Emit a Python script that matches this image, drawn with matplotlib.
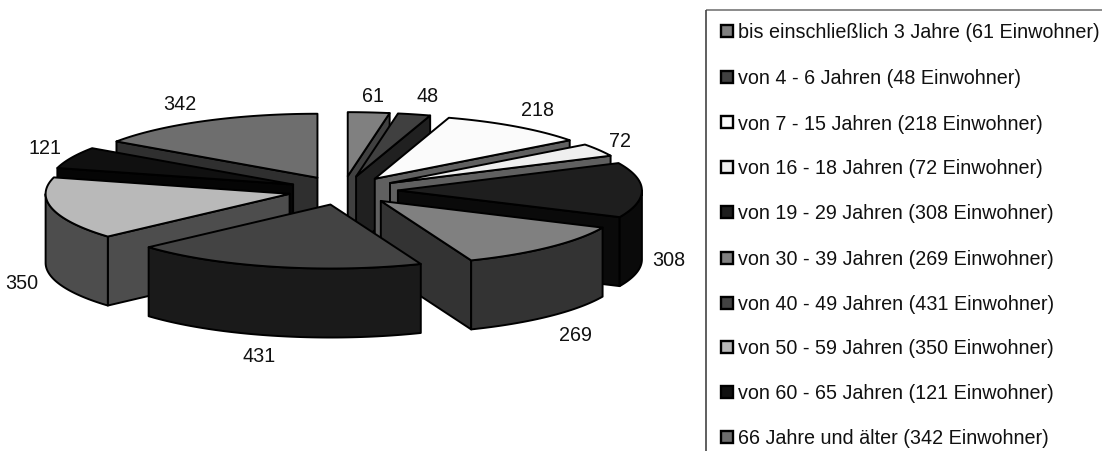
import numpy as np
import matplotlib
matplotlib.use('Agg')
import matplotlib.pyplot as plt
from matplotlib.patches import Polygon, Rectangle

plt.rcParams['font.family'] = ['Liberation Sans', 'DejaVu Sans']

categories = ['bis einschließlich 3 Jahre', 'von 4 - 6 Jahren', 'von 7 - 15 Jahren',
              'von 16 - 18 Jahren', 'von 19 - 29 Jahren', 'von 30 - 39 Jahren',
              'von 40 - 49 Jahren', 'von 50 - 59 Jahren', 'von 60 - 65 Jahren',
              '66 Jahre und älter']
values = [61, 48, 218, 72, 308, 269, 431, 350, 121, 342]
top_colors = ['#808080', '#404040', '#fbfbfb', '#efefef', '#1e1e1e',
              '#808080', '#434343', '#b9b9b9', '#101010', '#6e6e6e']
side_colors = ['#404040', '#202020', '#606060', '#606060', '#0a0a0a',
               '#333333', '#1a1a1a', '#4d4d4d', '#050505', '#2f2f2f']
label_pos = [(373, 96), (428, 96), (538, 111), (620, 142), (669, 261),
             (575, 336), (259, 357), (22, 284), (45, 149), (180, 105)]
draw_order = [0, 1, 2, 3, 4, 5, 9, 8, 7, 6]
legend_y = [33, 79, 124, 169, 214, 260, 305, 349, 394, 439]

# pie geometry in pixels
CX, CY = 343, 191.5
RX, RY = 244, 64
DEPTH = 69
EXPLODE = 0.225
LW = 1.4

fig = plt.figure(figsize=(11.02, 4.52), dpi=100)
ax = fig.add_axes([0, 0, 1, 1])
ax.set_xlim(0, 1102)
ax.set_ylim(452, 0)
ax.axis('off')


def arc(tip, a0, a1):
    t = np.radians(np.linspace(a0, a1, 60))
    return np.column_stack([tip[0] + RX * np.sin(t), tip[1] - RY * np.cos(t)])


def face(pts, color, zorder):
    ax.add_patch(Polygon(pts, closed=True, facecolor=color, edgecolor='black',
                         linewidth=LW, joinstyle='round', zorder=zorder))


def draw_slice(i, z):
    a0 = cum[i] / total * 360
    a1 = cum[i + 1] / total * 360
    mid = np.radians((a0 + a1) / 2)
    tip = (CX + EXPLODE * RX * np.sin(mid), CY - EXPLODE * RY * np.cos(mid))
    down = np.array([0, DEPTH])
    top = arc(tip, a0, a1)
    tip_a = np.array(tip)
    # cut faces that look towards the viewer
    if np.sin(np.radians(a0)) < -1e-6:
        face([tip_a, top[0], top[0] + down, tip_a + down], side_colors[i], z)
    if np.sin(np.radians(a1)) > 1e-6:
        face([tip_a, top[-1], top[-1] + down, tip_a + down], side_colors[i], z)
    # outer rim, front half only
    r0, r1 = max(a0, 90), min(a1, 270)
    if r0 < r1:
        rim = arc(tip, r0, r1)
        face(np.vstack([rim, (rim + down)[::-1]]), side_colors[i], z + 0.1)
    face(np.vstack([tip_a, top]), top_colors[i], z + 0.2)


total = sum(values)
cum = np.concatenate([[0], np.cumsum(values)])
for n, i in enumerate(draw_order):
    draw_slice(i, 2 + n)

for v, (x, y) in zip(values, label_pos):
    ax.text(x, y, str(v), fontsize=14.2, ha='center', va='center', color='#111111', zorder=20)

# legend box, runs off the right edge and the bottom of the picture
ax.plot([1102, 706], [11, 11], color='#777777', lw=1.2, zorder=1, solid_capstyle='butt')
ax.plot([706, 706], [11, 452], color='#444444', lw=1.2, zorder=1, solid_capstyle='butt')

for cat, v, c, y in zip(categories, values, top_colors, legend_y):
    ax.add_patch(Rectangle((721, y - 7), 12, 12, facecolor=c, edgecolor='black', linewidth=1.7, zorder=3))
    ax.text(738, y, f'{cat} ({v} Einwohner)', fontsize=14.2, ha='left', va='center',
            color='#111111', zorder=3)

fig.savefig('out.png', dpi=100)
